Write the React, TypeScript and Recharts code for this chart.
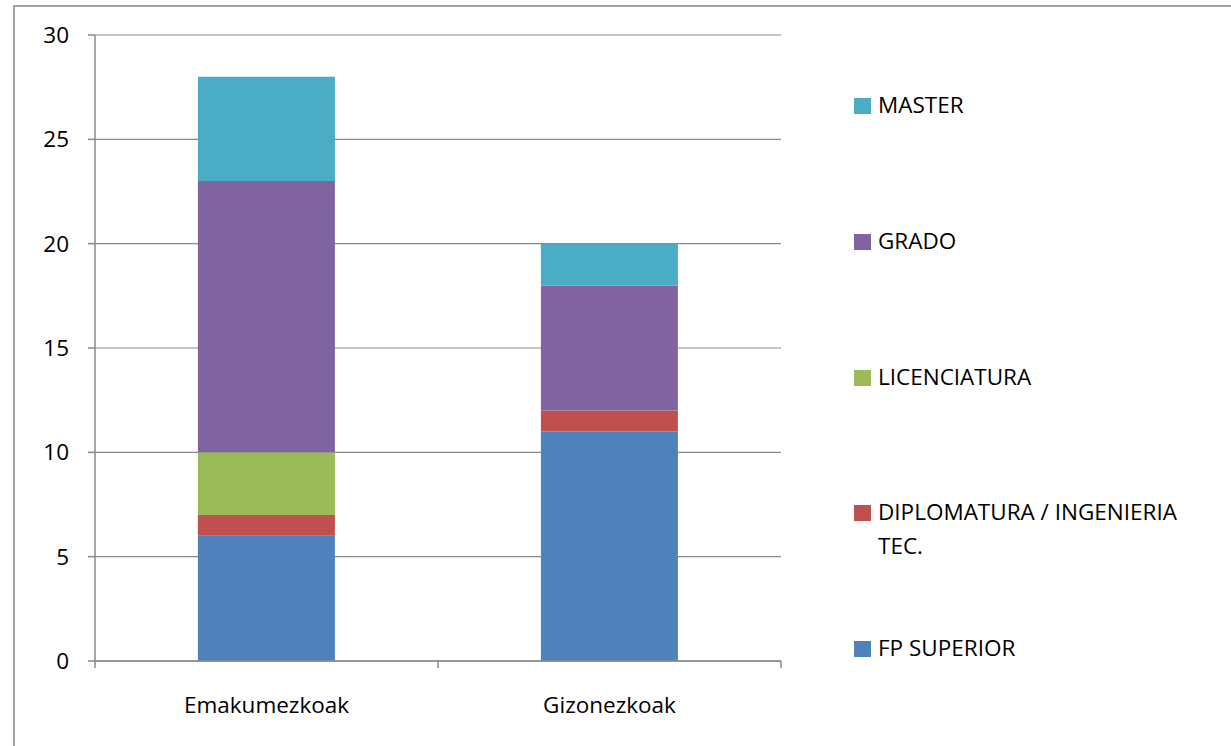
import React from 'react';
import { BarChart, Bar, XAxis, YAxis, CartesianGrid, Legend } from 'recharts';

const categories = ['Emakumezkoak', 'Gizonezkoak'];
const fpSuperior = [6, 11];
const diplomatura = [1, 1];
const licenciatura = [3, 0];
const grado = [13, 6];
const master = [5, 2];
const yTicks = [0, 5, 10, 15, 20, 25, 30];

const series = [
  { key: 'fp', name: 'FP SUPERIOR', color: '#4F81BD', values: fpSuperior },
  { key: 'dipl', name: 'DIPLOMATURA / INGENIERIA TEC.', color: '#C0504D', values: diplomatura },
  { key: 'lic', name: 'LICENCIATURA', color: '#9BBB59', values: licenciatura },
  { key: 'grado', name: 'GRADO', color: '#8064A2', values: grado },
  { key: 'master', name: 'MASTER', color: '#4BACC6', values: master },
];

const data = categories.map((c, i) => {
  const row: Record<string, string | number> = { cat: c };
  series.forEach((s) => {
    row[s.key] = s.values[i];
  });
  return row;
});

const FONT = '"Open Sans", sans-serif';
const AXIS = '#898989';
const W = 1231;
const H = 746;
const M = { top: 35, right: 450, bottom: 0, left: 0 };
const Y_W = 95;
const X_H = 85;
const plotW = W - M.left - M.right - Y_W;

const XTick = (props: any) => {
  const { x, y, payload, index } = props;
  const half = payload && typeof payload.offset === 'number' && payload.offset > 0
    ? payload.offset
    : plotW / categories.length / 2;
  return (
    <g>
      <line x1={x - half} x2={x - half} y1={y - 8} y2={y - 1} stroke={AXIS} strokeWidth={1.5} />
      {index === categories.length - 1 && (
        <line x1={x + half} x2={x + half} y1={y - 8} y2={y - 1} stroke={AXIS} strokeWidth={1.5} />
      )}
      <text x={x} y={y + 28} dy="0.71em" textAnchor="middle" fill="#000" fontSize={22.5} fontFamily={FONT}>
        {payload.value}
      </text>
    </g>
  );
};

const LegendContent = () => {
  const items = [...series].reverse();
  return (
    <div style={{ fontFamily: FONT, fontSize: 22.5, color: '#000', width: 340 }}>
      {items.map((s) => (
        <div key={s.key} style={{ height: 135.75, display: 'flex', alignItems: 'flex-start' }}>
          <div style={{ width: 17, height: 16, background: s.color, marginTop: 10, flex: '0 0 auto' }} />
          <div style={{ marginLeft: 7, lineHeight: '34px', width: 310 }}>{s.name}</div>
        </div>
      ))}
    </div>
  );
};

export default function App() {
  return (
    <div style={{ position: 'absolute', left: 0, top: 0, width: W, height: H, overflow: 'hidden', background: '#fff' }}>
      <div
        style={{
          position: 'absolute',
          left: 13,
          top: 5,
          width: 1400,
          height: 900,
          border: '2px solid #a3a3a3',
          boxSizing: 'border-box',
        }}
      />
      <div style={{ position: 'absolute', left: 0, top: 0 }}>
        <BarChart width={W} height={H} data={data} margin={M} barCategoryGap="30%">
          <CartesianGrid vertical={false} stroke={AXIS} strokeWidth={1.2} />
          <XAxis
            dataKey="cat"
            height={X_H}
            axisLine={{ stroke: AXIS, strokeWidth: 1.5 }}
            tickLine={false}
            tick={<XTick />}
            interval={0}
          />
          <YAxis
            width={Y_W}
            domain={[0, 30]}
            ticks={yTicks}
            interval={0}
            axisLine={{ stroke: AXIS, strokeWidth: 1.5 }}
            tickLine={{ stroke: AXIS, strokeWidth: 1.5 }}
            tickSize={7}
            tickMargin={19}
            tick={{ fill: '#000', fontSize: 22.5, fontFamily: FONT }}
          />
          <Legend
            layout="horizontal"
            verticalAlign="middle"
            align="center"
            content={<LegendContent />}
            wrapperStyle={{ position: 'absolute', left: 854, top: 88, width: 360, height: 'auto' }}
          />
          {series.map((s) => (
            <Bar key={s.key} dataKey={s.key} name={s.name} stackId="a" fill={s.color} isAnimationActive={false} />
          ))}
        </BarChart>
      </div>
    </div>
  );
}
